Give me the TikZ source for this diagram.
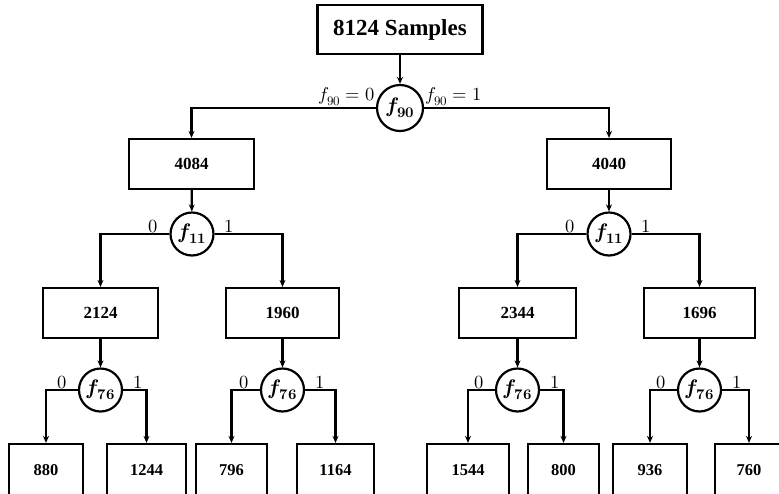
\documentclass[tikz,border=0pt]{standalone}
\usepackage{fontspec}
\usepackage{unicode-math}
\setmainfont{Liberation Serif}
\setmathfont{Latin Modern Math}
\usetikzlibrary{arrows.meta,calc}
\begin{document}
\begin{tikzpicture}[x=1pt,y=-1pt,
  box/.style={draw,line width=2.2pt,inner sep=0pt,font=\bfseries\fontsize{17}{17}\selectfont},
  leaf/.style={box,minimum height=52pt,font=\bfseries\fontsize{16.5}{16.5}\selectfont},
  feat/.style={draw,circle,line width=2.2pt,inner sep=0pt,minimum size=43pt,font=\fontsize{21}{21}\selectfont},
  lbl/.style={inner sep=1pt,anchor=south,font=\fontsize{18.5}{18.5}\selectfont},
  conn/.style={line width=2.2pt,-{Stealth[length=7pt,width=6pt]}}]
\useasboundingbox (0,0) rectangle (779,493);
\clip (0,0) rectangle (779,493);
% level 0
\node[box,minimum width=165pt,minimum height=49pt,font=\bfseries\fontsize{23}{23}\selectfont] (root) at (400,29.5) {8124 Samples};
\node[feat,minimum size=46pt] (f90) at (400,108) {$\symbfit{f}_{\symbf{90}}$};
% level 1
\node[box,minimum width=125pt,minimum height=50pt] (a) at (191.5,164) {4084};
\node[box,minimum width=124pt,minimum height=50pt] (b) at (609,164) {4040};
\node[feat] (fa) at (192,234) {$\symbfit{f}_{\symbf{11}}$};
\node[feat] (fb) at (609,234) {$\symbfit{f}_{\symbf{11}}$};
% level 2
\node[box,minimum width=115pt,minimum height=50pt] (aa) at (100.5,313) {2124};
\node[box,minimum width=113pt,minimum height=50pt] (ab) at (282.5,313) {1960};
\node[box,minimum width=117pt,minimum height=50pt] (ba) at (517.5,313) {2344};
\node[box,minimum width=111pt,minimum height=50pt] (bb) at (699.5,313) {1696};
\node[feat] (faa) at (100.5,390) {$\symbfit{f}_{\symbf{76}}$};
\node[feat] (fab) at (282.5,390) {$\symbfit{f}_{\symbf{76}}$};
\node[feat] (fba) at (517.5,390) {$\symbfit{f}_{\symbf{76}}$};
\node[feat] (fbb) at (699.5,390) {$\symbfit{f}_{\symbf{76}}$};
% leaves
\node[leaf,minimum width=74pt] (l1) at (46,470) {880};
\node[leaf,minimum width=79pt] (l2) at (146.5,470) {1244};
\node[leaf,minimum width=71pt] (l3) at (231.5,470) {796};
\node[leaf,minimum width=77pt] (l4) at (335.5,470) {1164};
\node[leaf,minimum width=82pt] (l5) at (468,470) {1544};
\node[leaf,minimum width=71pt] (l6) at (563.5,470) {800};
\node[leaf,minimum width=74pt] (l7) at (650,470) {936};
\node[leaf,minimum width=68pt] (l8) at (749,470) {760};
% connectors
\draw[conn] (root) -- (f90);
\draw[conn] (f90.west) -| (a.north);
\draw[conn] (f90.east) -| (b.north);
\draw[conn] (a) -- (fa);
\draw[conn] (b) -- (fb);
\draw[conn] (fa.west) -| (aa.north);
\draw[conn] (fa.east) -| (ab.north);
\draw[conn] (fb.west) -| (ba.north);
\draw[conn] (fb.east) -| (bb.north);
\draw[conn] (aa) -- (faa);
\draw[conn] (ab) -- (fab);
\draw[conn] (ba) -- (fba);
\draw[conn] (bb) -- (fbb);
\draw[conn] (faa.west) -| (l1.north);
\draw[conn] (faa.east) -| (l2.north);
\draw[conn] (fab.west) -| (l3.north);
\draw[conn] (fab.east) -| (l4.north);
\draw[conn] (fba.west) -| (l5.north);
\draw[conn] (fba.east) -| (l6.north);
\draw[conn] (fbb.west) -| (l7.north);
\draw[conn] (fbb.east) -| (l8.north);
% labels
\node[lbl,anchor=south east] (t0) at ([yshift=1pt]f90.west) {$f_{90}=0$};
\node[lbl,anchor=south west] (t1) at ([yshift=1pt]f90.east) {$f_{90}=1$};
\foreach \c in {fa,fb,faa,fab,fba,fbb}{
  \node[lbl] (\c-0) at ([xshift=-16pt]\c.west) {$0$};
  \node[lbl] (\c-1) at ([xshift=15pt]\c.east) {$1$};
}
\end{tikzpicture}
\end{document}
